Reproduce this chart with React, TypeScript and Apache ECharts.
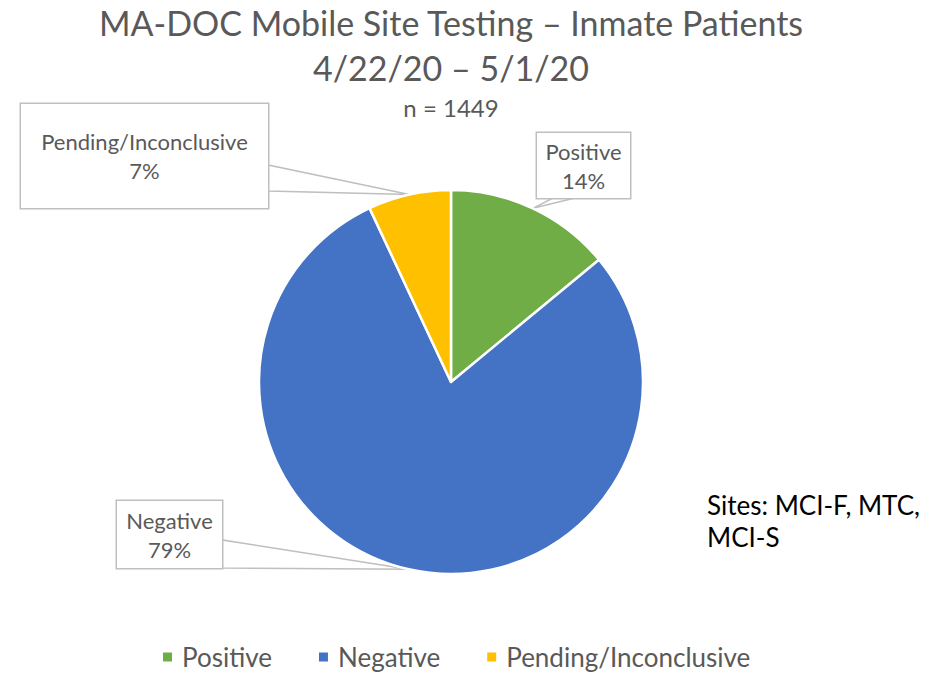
import React, { useEffect, useRef } from "react";
import * as echarts from "echarts";

const categories = ["Positive", "Negative", "Pending/Inconclusive"];
const counts = [203, 1145, 101];
const colors = ["#70AD47", "#4472C4", "#FFC000"];
const titleLines = ["MA-DOC Mobile Site Testing \u2013 Inmate Patients", "4/22/20 \u2013 5/1/20"];
const subtitle = "n = 1449";
const noteLines = ["Sites: MCI-F, MTC,", "MCI-S"];

const FONT = 'Lato, "Noto Sans", sans-serif';
const GREY = "#595959";

// callout box layout: center, outer size, notch points on the box edge
const CALLOUTS = [
  { cx: 583.5, cy: 165.5, w: 93, h: 65, notch: [[575, 198], [553, 198]] },
  { cx: 169.5, cy: 534.5, w: 105, h: 67, notch: [[222, 540], [222, 568]] },
  { cx: 144.5, cy: 156, w: 247, h: 104, notch: [[268, 165], [268, 191]] },
];

const LINE_H = 29;

export default function App() {
  const ref = useRef<HTMLDivElement>(null);
  useEffect(() => {
    if (!ref.current) return;
    const chart = echarts.init(ref.current, null, { renderer: "svg" });
    const data = categories.map((name, i) => {
      const c = CALLOUTS[i];
      const padV = (c.h - 2 * LINE_H) / 2;
      return {
        name,
        value: counts[i],
        itemStyle: { color: colors[i] },
        label: {
          width: c.w,
          padding: [padV, 0, padV, 0],
        },
      };
    });
    chart.setOption({
      animation: false,
      graphic: [
        {
          type: "text",
          x: 451,
          y: 22,
          style: { text: titleLines[0], font: `34px ${FONT}`, fill: GREY, textAlign: "center", textVerticalAlign: "middle" },
        },
        {
          type: "text",
          x: 451,
          y: 67,
          style: { text: titleLines[1], font: `34px ${FONT}`, fill: GREY, textAlign: "center", textVerticalAlign: "middle" },
        },
        {
          type: "text",
          x: 451,
          y: 107,
          style: { text: subtitle, font: `24px ${FONT}`, fill: GREY, textAlign: "center", textVerticalAlign: "middle" },
        },
        {
          type: "text",
          x: 707,
          y: 505,
          style: { text: noteLines[0], font: `26px ${FONT}`, fill: "#000", textAlign: "left", textVerticalAlign: "middle" },
        },
        {
          type: "text",
          x: 707,
          y: 537,
          style: { text: noteLines[1], font: `26px ${FONT}`, fill: "#000", textAlign: "left", textVerticalAlign: "middle" },
        },
      ],
      legend: {
        data: categories,
        top: 644,
        left: 161,
        padding: 0,
        icon: "rect",
        itemWidth: 11,
        itemHeight: 11,
        itemGap: 45,
        textStyle: { fontFamily: FONT, fontSize: 26, lineHeight: 26, color: GREY, padding: [0, 0, 0, 4] },
        selectedMode: false,
      },
      series: [
        {
          type: "pie",
          center: [451, 382],
          radius: 192,
          startAngle: 90,
          clockwise: true,
          silent: true,
          percentPrecision: 0,
          itemStyle: { borderColor: "#fff", borderWidth: 2.5 },
          label: {
            show: true,
            position: "outside",
            formatter: "{b}\n{d}%",
            fontFamily: FONT,
            fontSize: 22,
            lineHeight: LINE_H,
            color: GREY,
            align: "center",
            backgroundColor: "#fff",
            borderColor: "#BFBFBF",
            borderWidth: 1.5,
          },
          labelLine: {
            show: true,
            lineStyle: { color: "#BFBFBF", width: 1.5 },
          },
          labelLayout: (params: any) => {
            const c = CALLOUTS[params.dataIndex];
            const p0 = params.labelLinePoints && params.labelLinePoints[0];
            const res: any = { x: c.cx, y: c.cy, align: "center", verticalAlign: "middle" };
            if (p0) {
              res.labelLinePoints = [[p0[0], p0[1]], c.notch[0], c.notch[1], [p0[0], p0[1]]];
            }
            return res;
          },
          data,
        },
      ],
    });
    return () => chart.dispose();
  }, []);
  return (
    <div
      ref={ref}
      style={{ position: "absolute", left: 0, top: 0, width: 935, height: 674, background: "#fff" }}
    />
  );
}
